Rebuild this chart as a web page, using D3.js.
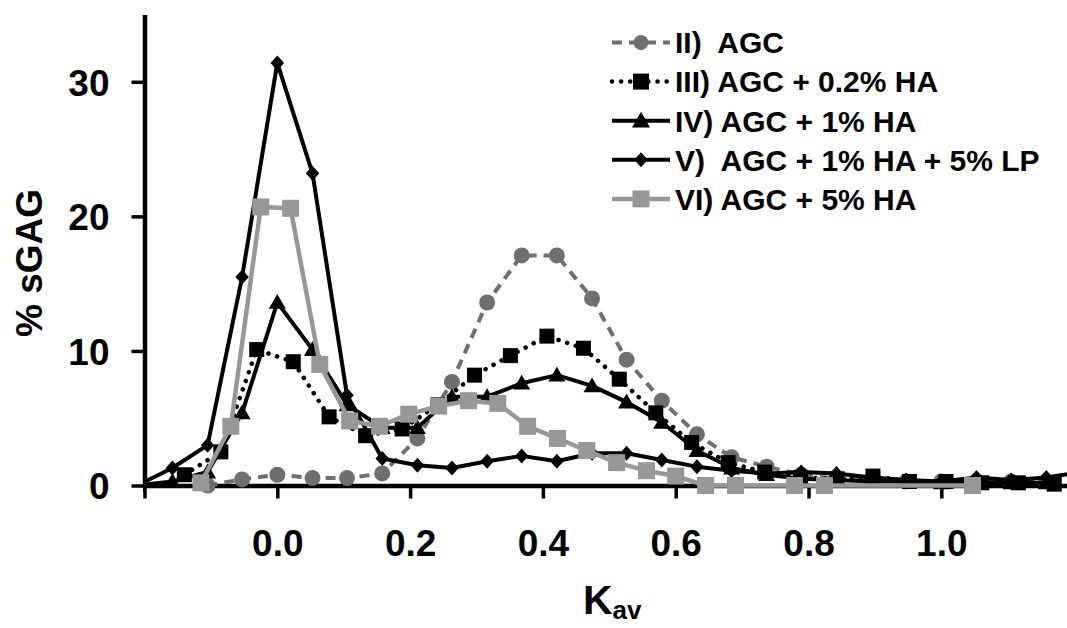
<!DOCTYPE html>
<html>
<head>
<meta charset="utf-8">
<script src="https://cdn.jsdelivr.net/npm/d3@7"></script>
<style>
  html, body { margin: 0; padding: 0; background: #fff; }
  svg { display: block; font-family: "Liberation Sans", Arial, Helvetica, sans-serif; font-weight: bold; }
</style>
</head>
<body>
<svg id="chart" width="1067" height="628"></svg>
<script>
// ---- data ----
const seriesNames = ["II)  AGC", "III) AGC + 0.2% HA", "IV) AGC + 1% HA", "V)  AGC + 1% HA + 5% LP", "VI) AGC + 5% HA"];
const yTicks = [0, 10, 20, 30];
const xTicks = [-0.2, 0.0, 0.2, 0.4, 0.6, 0.8, 1.0];
const xTickLabels = ["", "0.0", "0.2", "0.4", "0.6", "0.8", "1.0"];

const kavII  = [-0.105, -0.053, 0.000, 0.053, 0.105, 0.158, 0.211, 0.263, 0.316, 0.368, 0.421, 0.474, 0.526, 0.579, 0.632, 0.684, 0.737, 0.789, 0.842, 0.895, 0.947, 1.000, 1.053, 1.105, 1.158];
const sgagII = [0.0, 0.45, 0.8, 0.55, 0.55, 0.9, 3.5, 7.7, 13.6, 17.1, 17.1, 13.9, 9.35, 6.3, 3.8, 2.1, 1.4, 0.8, 0.5, 0.4, 0.3, 0.3, 0.3, 0.3, 0.3];

const kavIII  = [-0.140, -0.085, -0.031, 0.024, 0.078, 0.133, 0.188, 0.242, 0.297, 0.351, 0.406, 0.461, 0.515, 0.570, 0.624, 0.679, 0.734, 0.788, 0.843, 0.897, 0.952, 1.007, 1.061, 1.116, 1.170];
const sgagIII = [0.8, 2.5, 10.1, 9.2, 5.1, 3.7, 4.2, 6.0, 8.2, 9.65, 11.1, 10.2, 7.9, 5.4, 3.2, 1.7, 1.0, 0.6, 0.5, 0.7, 0.3, 0.3, 0.2, 0.2, 0.1];

const kavIV  = [-0.211, -0.158, -0.105, -0.053, 0.000, 0.053, 0.105, 0.158, 0.211, 0.263, 0.316, 0.368, 0.421, 0.474, 0.526, 0.579, 0.632, 0.684, 0.737, 0.789, 0.842, 0.895, 0.947, 1.000, 1.053, 1.105, 1.158];
const sgagIV = [0.0, 0.3, 1.0, 5.4, 13.6, 10.1, 6.0, 4.3, 4.3, 6.6, 6.6, 7.6, 8.2, 7.4, 6.2, 4.7, 2.6, 1.3, 0.8, 0.5, 0.4, 0.3, 0.3, 0.2, 0.2, 0.2, 0.2];

const kavV  = [-0.211, -0.158, -0.105, -0.053, 0.000, 0.053, 0.105, 0.158, 0.211, 0.263, 0.316, 0.368, 0.421, 0.474, 0.526, 0.579, 0.632, 0.684, 0.737, 0.789, 0.842, 0.895, 0.947, 1.000, 1.053, 1.105, 1.158, 1.211];
const sgagV = [0.0, 1.3, 3.0, 15.5, 31.4, 23.2, 6.7, 2.0, 1.5, 1.3, 1.8, 2.2, 1.8, 2.4, 2.4, 1.9, 1.4, 1.1, 0.9, 1.0, 0.9, 0.6, 0.4, 0.3, 0.6, 0.4, 0.6, 1.0];

const kavVI  = [-0.115, -0.070, -0.025, 0.020, 0.064, 0.109, 0.154, 0.198, 0.243, 0.288, 0.332, 0.377, 0.422, 0.466, 0.511, 0.556, 0.600, 0.645, 0.690, 0.779, 0.824, 1.047];
const sgagVI = [0.2, 4.4, 20.7, 20.6, 9.0, 4.8, 4.4, 5.3, 5.9, 6.3, 6.1, 4.4, 3.5, 2.6, 1.7, 1.1, 0.7, 0.0, 0.0, 0.0, 0.0, 0.0];

// ---- styles ----
const styles = [
  { color: "#6f6f6f", width: 4, dash: "10,7", cap: "butt", marker: "circle", size: 8, lsize: 7.5 },
  { color: "#000000", width: 4.5, dash: "0.1,9", cap: "round", marker: "square", size: 15, lsize: 16 },
  { color: "#000000", width: 4, dash: null, cap: "butt", marker: "triangle", size: 17, lsize: 18 },
  { color: "#000000", width: 4, dash: null, cap: "butt", marker: "diamond", size: 15, lsize: 15 },
  { color: "#979797", width: 4.5, dash: null, cap: "butt", marker: "square", size: 17, lsize: 17 }
];

const series = [
  { name: seriesNames[0], kav: kavII, v: sgagII },
  { name: seriesNames[1], kav: kavIII, v: sgagIII },
  { name: seriesNames[2], kav: kavIV, v: sgagIV },
  { name: seriesNames[3], kav: kavV, v: sgagV },
  { name: seriesNames[4], kav: kavVI, v: sgagVI }
];

const svg = d3.select("#chart");
svg.append("rect").attr("width", 1067).attr("height", 628).attr("fill", "#fff");

const x = d3.scaleLinear().domain([-0.2, 1.19]).range([144.5, 1067.5]);
const y = d3.scaleLinear().domain([0, 35]).range([485.5, 14.5]);

svg.append("defs").append("clipPath").attr("id", "plotclip")
  .append("rect").attr("x", 143).attr("y", 0).attr("width", 930).attr("height", 520);

function markerPath(type, s) {
  const h = s / 2;
  if (type === "square") return `M${-h},${-h}H${h}V${h}H${-h}Z`;
  if (type === "triangle") return `M0,${-h * 1.0}L${h},${h * 0.75}L${-h},${h * 0.75}Z`;
  if (type === "diamond") return `M0,${-h}L${h * 0.9},0L0,${h}L${-h * 0.9},0Z`;
  return null;
}
function drawMarker(g, type, s, color) {
  if (type === "circle") {
    return g.append("circle").attr("r", s).attr("fill", color);
  }
  return g.append("path").attr("d", markerPath(type, s)).attr("fill", color);
}

// ---- axes ----
const yAxis = d3.axisLeft(y).tickValues(yTicks).tickSize(13).tickSizeOuter(0).tickPadding(22).tickFormat(d3.format("d"));
const gy = svg.append("g").attr("transform", `translate(${x(-0.2)},0)`).call(yAxis);
gy.select(".domain").attr("stroke", "#000").attr("stroke-width", 4.5);
gy.selectAll(".tick line").attr("stroke", "#000").attr("stroke-width", 3.5);
gy.selectAll(".tick text").attr("font-size", 37).attr("font-weight", "bold").attr("fill", "#000")
  .attr("font-family", "Liberation Sans, Arial, sans-serif").attr("dy", "0.36em");

const xAxis = d3.axisBottom(x).tickValues(xTicks).tickSize(13).tickSizeOuter(0).tickPadding(31)
  .tickFormat((d, i) => xTickLabels[i]);
const gx = svg.append("g").attr("transform", `translate(0,${y(0)})`).call(xAxis);
gx.select(".domain").attr("stroke", "#000").attr("stroke-width", 4.5);
gx.selectAll(".tick line").attr("stroke", "#000").attr("stroke-width", 3.5);
gx.selectAll(".tick text").attr("font-size", 37).attr("font-weight", "bold").attr("fill", "#000")
  .attr("font-family", "Liberation Sans, Arial, sans-serif");

// ---- series ----
const plot = svg.append("g").attr("clip-path", "url(#plotclip)");
const line = d3.line().x(d => x(d[0])).y(d => y(d[1]));

series.forEach((s, si) => {
  const st = styles[si];
  const pts = s.kav.map((k, i) => [k, s.v[i]]);
  const g = plot.append("g");
  g.append("path").attr("d", line(pts)).attr("fill", "none")
    .attr("stroke", st.color).attr("stroke-width", st.width)
    .attr("stroke-dasharray", st.dash).attr("stroke-linecap", st.cap)
    .attr("stroke-linejoin", "round");
  pts.forEach(p => {
    const m = g.append("g").attr("transform", `translate(${x(p[0])},${y(p[1])})`);
    drawMarker(m, st.marker, st.size, st.color);
  });
});

// ---- legend ----
const lg = svg.append("g");
series.forEach((s, si) => {
  const st = styles[si];
  const cy = 42.5 + si * 39.1;
  const row = lg.append("g").attr("transform", `translate(0,${cy})`);
  row.append("line").attr("x1", 612).attr("x2", 670).attr("y1", 0).attr("y2", 0)
    .attr("stroke", st.color).attr("stroke-width", st.width)
    .attr("stroke-dasharray", st.dash).attr("stroke-linecap", st.cap);
  const m = row.append("g").attr("transform", "translate(641,0)");
  drawMarker(m, st.marker, st.lsize, st.color);
  row.append("text").attr("x", 675).attr("y", 0).attr("dy", "0.36em")
    .attr("font-size", 30).attr("fill", "#000")
    .style("white-space", "pre").attr("xml:space", "preserve")
    .text(s.name);
});

// ---- axis titles ----
svg.append("text").attr("transform", "translate(42,263) rotate(-90)")
  .attr("text-anchor", "middle").attr("font-size", 37).attr("fill", "#000")
  .text("% sGAG");

const xt = svg.append("text").attr("x", 583).attr("y", 614).attr("font-size", 41).attr("fill", "#000");
xt.append("tspan").text("K");
xt.append("tspan").attr("font-size", 26).attr("dy", 5).text("av");
</script>
</body>
</html>
